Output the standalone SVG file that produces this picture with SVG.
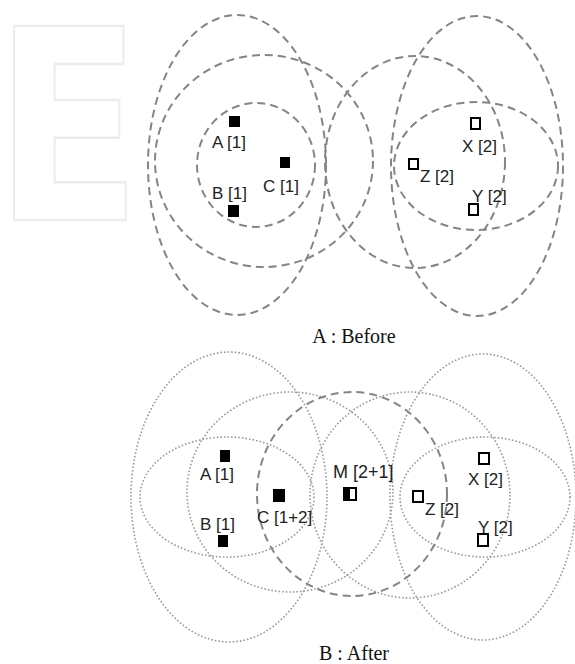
<svg xmlns="http://www.w3.org/2000/svg" width="575" height="664" viewBox="0 0 575 664">
<style>
.dash{fill:none;stroke:#858585;stroke-width:2;stroke-dasharray:8 5}
.dot{fill:none;stroke:#9a9a9a;stroke-width:1.6;stroke-dasharray:1.6 2}
.lbl{font-family:"Liberation Sans",Arial,sans-serif;font-size:17px;fill:#222}
.cap{font-family:"Liberation Serif","Times New Roman",serif;font-size:20px;fill:#111;text-anchor:middle}
.full{fill:#000}
.hol{fill:#fff;stroke:#000;stroke-width:2}
</style>
<rect width="575" height="664" fill="#fff"/>
<text x="-7" y="220" transform="scale(0.81,1)" font-family="DejaVu Sans,sans-serif" font-weight="bold" font-size="266" fill="none" stroke="#ececec" stroke-width="2.5">E</text>

<g id="ranges">
  <g id="before-ranges">
    <ellipse class="dash" cx="237" cy="165" rx="89" ry="150"/>
    <ellipse class="dash" cx="264" cy="161" rx="109" ry="106"/>
    <ellipse class="dash" cx="256" cy="165" rx="59" ry="62"/>
    <ellipse class="dash" cx="477" cy="166" rx="86" ry="150"/>
    <ellipse class="dash" cx="415" cy="162" rx="90" ry="106"/>
    <ellipse class="dash" cx="476" cy="166" rx="82" ry="64"/>
  </g>
  <g id="after-ranges">
    <ellipse class="dot" cx="229" cy="497" rx="98" ry="145"/>
    <ellipse class="dot" cx="290" cy="492" rx="103" ry="100"/>
    <ellipse class="dot" cx="227" cy="497" rx="87" ry="60"/>
    <ellipse class="dot" cx="483" cy="497" rx="93" ry="143"/>
    <ellipse class="dot" cx="410" cy="495" rx="100" ry="103"/>
    <ellipse class="dot" cx="485" cy="497" rx="85" ry="60"/>
    <ellipse class="dash" cx="352" cy="494" rx="95" ry="102"/>
  </g>
</g>

<g id="before-A"><rect class="full" x="229" y="116" width="11" height="11"/><text class="lbl" x="212" y="148">A [1]</text></g>
<g id="before-B"><rect class="full" x="228" y="205" width="11" height="12"/><text class="lbl" x="212" y="199">B [1]</text></g>
<g id="before-C"><rect class="full" x="280" y="157" width="10" height="11"/><text class="lbl" x="263" y="192">C [1]</text></g>
<g id="before-X"><rect class="hol" x="471" y="118" width="9" height="11"/><text class="lbl" x="462" y="152">X [2]</text></g>
<g id="before-Z"><rect class="hol" x="409" y="159" width="9" height="10"/><text class="lbl" x="420" y="182">Z [2]</text></g>
<g id="before-Y"><rect class="hol" x="469" y="204" width="9" height="11"/><text class="lbl" x="472" y="202">Y [2]</text></g>
<text class="cap" x="354" y="343">A : Before</text>

<g id="after-A"><rect class="full" x="220" y="450" width="10" height="12"/><text class="lbl" x="200" y="480">A [1]</text></g>
<g id="after-B"><rect class="full" x="218" y="535" width="10" height="12"/><text class="lbl" x="200" y="530">B [1]</text></g>
<g id="after-C"><rect class="full" x="273" y="489" width="12" height="13"/><text class="lbl" x="257" y="523">C [1+2]</text></g>
<g id="after-M"><rect class="hol" x="344" y="488" width="12" height="12"/><rect class="full" x="344" y="488" width="6" height="12"/><text class="lbl" x="333" y="478" style="font-size:18px">M [2+1]</text></g>
<g id="after-Z"><rect class="hol" x="413" y="491" width="10" height="11"/><text class="lbl" x="425" y="515">Z [2]</text></g>
<g id="after-X"><rect class="hol" x="479" y="453" width="10" height="11"/><text class="lbl" x="468" y="485">X [2]</text></g>
<g id="after-Y"><rect class="hol" x="478" y="534" width="10" height="12"/><text class="lbl" x="478" y="533">Y [2]</text></g>
<text class="cap" x="354" y="660">B : After</text>
</svg>
